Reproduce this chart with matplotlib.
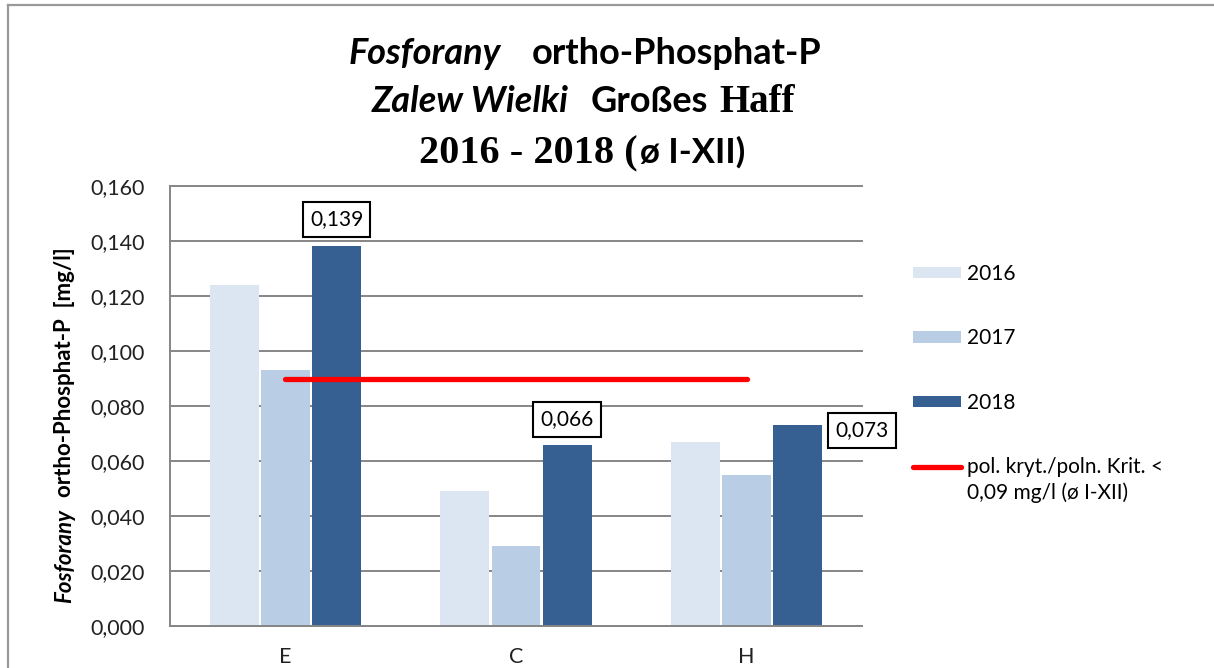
import numpy as np
import matplotlib.pyplot as plt
from matplotlib.patches import Patch
from matplotlib.lines import Line2D

# data
stations = ['E', 'C', 'H']
years = ['2016', '2017', '2018']
v2016 = [0.124, 0.049, 0.067]
v2017 = [0.093, 0.029, 0.055]
v2018 = [0.138, 0.066, 0.073]
labels2018 = ['0,139', '0,066', '0,073']
crit = [0.09, 0.09, 0.09]
crit_label = ['pol. kryt./poln. Krit. <', '0,09 mg/l (ø I-XII)']
yticks = [0.0, 0.02, 0.04, 0.06, 0.08, 0.10, 0.12, 0.14, 0.16]

colors = ['#DCE6F2', '#B9CDE5', '#376092']
SANS = 'Lato'
SERIF = 'Liberation Serif'

W, H = 1214, 668
fig = plt.figure(figsize=(W / 100, H / 100), dpi=100)
fig.patch.set_facecolor('white')


def fx(x):
    return x / W


def fy(y):
    return 1 - y / H


ax = fig.add_axes([fx(170), fy(626), 692 / W, 440 / H])

x = np.arange(len(stations))
step = 0.222
for k, vals in enumerate([v2016, v2017, v2018]):
    ax.bar(x + (k - 1) * step, vals, width=0.212, color=colors[k],
           edgecolor='none', zorder=2, label=years[k])

ax.plot(x, crit, color='#FF0000', lw=3.8, solid_capstyle='round', zorder=3)

# boxed labels for 2018
box = dict(boxstyle='square,pad=0.35', fc='white', ec='black', lw=1.5)
offs = [(0, 27), (0, 25), (64, -5)]
for i in range(len(stations)):
    ax.annotate(labels2018[i], (x[i] + step, v2018[i]), xytext=offs[i],
                textcoords='offset pixels', ha='center', va='center',
                fontsize=15, family=SANS, bbox=box, zorder=4)

ax.set_xlim(-0.5, 2.5)
ax.set_ylim(0, 0.16)
ax.set_yticks(yticks)
ax.set_yticklabels([f'{v:.3f}'.replace('.', ',') for v in yticks])
ax.set_xticks(x)
ax.set_xticklabels(stations)
ax.tick_params(length=0, labelsize=15.5, colors='#222222')
ax.tick_params(axis='y', pad=18)
ax.tick_params(axis='x', pad=15)
for lab in ax.get_xticklabels() + ax.get_yticklabels():
    lab.set_family(SANS)
ax.set_axisbelow(True)
ax.yaxis.grid(True, color='#868686', lw=1.4, clip_on=False)
for s in ['top', 'right']:
    ax.spines[s].set_visible(False)
for s in ['left', 'bottom']:
    ax.spines[s].set_color('#868686')
    ax.spines[s].set_linewidth(1.4)

# legend
handles = [Patch(fc=c, ec='none') for c in colors]
handles.append(Line2D([], [], color='#FF0000', lw=3.8, solid_capstyle='round'))
leg = fig.legend(handles, years + [crit_label[0]], loc='upper left',
                 bbox_to_anchor=(fx(913), fy(264)), frameon=False,
                 borderpad=0, borderaxespad=0, handlelength=2.3,
                 handleheight=0.48, handletextpad=0.3, labelspacing=2.13,
                 prop={'family': SANS, 'size': 15})

# outer frame
fig.add_artist(Line2D([fx(8), fx(8)], [fy(5), 0], color='#999999', lw=1.6))
fig.add_artist(Line2D([fx(8), 1], [fy(5), fy(5)], color='#999999', lw=1.6))

fig.canvas.draw()
r = fig.canvas.get_renderer()

# second line of the criterion label
t3 = leg.get_texts()[3]
bb = t3.get_window_extent(r)
fig.text(bb.x0 / W, (bb.y0 - 5) / H, crit_label[1], ha='left', va='top',
         family=SANS, fontsize=15)


def rich_line(cx, ybase, pieces):
    texts = []
    total = 0
    for txt, kw, gap in pieces:
        t = fig.text(0, fy(ybase), txt, ha='left', va='baseline', **kw)
        w = t.get_window_extent(r).width
        texts.append((t, w, gap))
        total += w + gap
    pos = cx - total / 2
    for t, w, gap in texts:
        t.set_x(fx(pos))
        pos += w + gap


def rich_vertical(xb, y0, pieces):
    pos = y0
    for txt, kw, gap in pieces:
        t = fig.text(fx(xb), fy(pos), txt, ha='left', va='baseline',
                     rotation=90, rotation_mode='anchor', **kw)
        pos -= t.get_window_extent(r).height + gap


bi = dict(family=SANS, weight='bold', style='italic', fontsize=26)
b = dict(family=SANS, weight='bold', fontsize=26)
sb2 = dict(family=SERIF, weight='bold', fontsize=28)
sb3 = dict(family=SERIF, weight='bold', fontsize=29)
b3 = dict(family=SANS, weight='bold', fontsize=25)

rich_line(585, 64, [('Fosforany', bi, 30), ('ortho-Phosphat-P', b, 0)])
rich_line(583, 112, [('Zalew Wielki', bi, 22), ('Großes', b, 11), ('Haff', sb2, 0)])
rich_line(582, 163, [('2016 - 2018 (', sb3, 3), ('ø I-XII)', b3, 0)])

ybi = dict(family=SANS, weight='bold', style='italic', fontsize=16)
yb = dict(family=SANS, weight='bold', fontsize=16)
rich_vertical(71, 603, [('Fosforany', ybi, 12), ('ortho-Phosphat-P  [mg/l]', yb, 0)])

fig.savefig('out.png', dpi=100)
